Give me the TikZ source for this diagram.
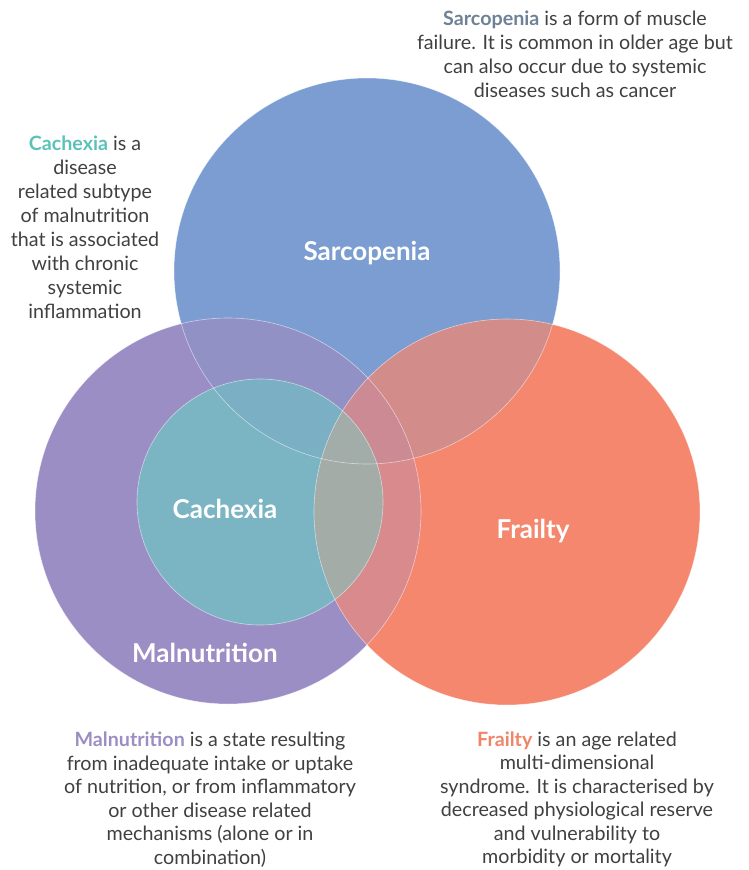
\documentclass[tikz,border=0pt]{standalone}
\usepackage{fontspec}
\setmainfont{Lato}
\definecolor{cB}{HTML}{7B9DD2}
\definecolor{cP}{HTML}{9B8EC4}
\definecolor{cO}{HTML}{F4876E}
\definecolor{cT}{HTML}{7BB5C3}
\definecolor{cBP}{HTML}{9291C6}
\definecolor{cBO}{HTML}{D28C89}
\definecolor{cPO}{HTML}{D98A8D}
\definecolor{cBPO}{HTML}{CB8A94}
\definecolor{cTB}{HTML}{7BAFC3}
\definecolor{cTO}{HTML}{A3ACA6}
\definecolor{cTBO}{HTML}{A2ACA8}
\definecolor{body}{HTML}{404040}
\definecolor{hS}{HTML}{6F8197}
\definecolor{hC}{HTML}{5BC2B8}
\definecolor{hM}{HTML}{9B8EC4}
\definecolor{hF}{HTML}{F08467}
\tikzset{
  desc/.style={align=center, text=body, inner sep=0pt, font=\fontsize{19.7}{24}\selectfont},
  descb/.style={desc, font=\fontsize{19.7}{23.5}\selectfont},
  clabel/.style={text=white, inner sep=0pt, font=\fontsize{26}{30}\selectfont\bfseries},
  rim/.style={draw=white, draw opacity=0.55, line width=0.6pt}
}
\begin{document}
\begin{tikzpicture}[x=1pt,y=1pt]
\useasboundingbox (0,0) rectangle (749,-870);
\coordinate (B) at (367,-271);
\coordinate (P) at (228,-511);
\coordinate (O) at (507,-512);
\coordinate (T) at (260,-502);
\def\rB{193}\def\rP{193}\def\rO{193}\def\rT{123}
% base circles
\fill[cP] (P) circle (\rP);
\fill[cB] (B) circle (\rB);
\fill[cO] (O) circle (\rO);
% pairwise and triple overlaps
\begin{scope}\clip (B) circle (\rB); \fill[cBP] (P) circle (\rP); \end{scope}
\begin{scope}\clip (B) circle (\rB); \fill[cBO] (O) circle (\rO); \end{scope}
\begin{scope}\clip (P) circle (\rP); \fill[cPO] (O) circle (\rO); \end{scope}
\begin{scope}\clip (B) circle (\rB); \clip (P) circle (\rP); \fill[cBPO] (O) circle (\rO); \end{scope}
% cachexia
\fill[cT] (T) circle (\rT);
\begin{scope}\clip (B) circle (\rB); \fill[cTB] (T) circle (\rT); \end{scope}
\begin{scope}\clip (O) circle (\rO); \fill[cTO] (T) circle (\rT); \end{scope}
\begin{scope}\clip (B) circle (\rB); \clip (O) circle (\rO); \fill[cTBO] (T) circle (\rT); \end{scope}
% rims
\draw[rim] (P) circle (\rP);
\draw[rim] (B) circle (\rB);
\draw[rim] (O) circle (\rO);
\draw[rim] (T) circle (\rT);
% circle labels
\node[clabel] (lS) at (367,-253) {Sarcopenia};
\node[clabel] (lC) at (225,-509) {Cachexia};
\node[clabel] (lF) at (533,-531) {Frailty};
\node[clabel] (lM) at (205,-653) {Malnutrition};
% descriptions
\node[desc] (dS) at (575,-54) {\textbf{\color{hS}Sarcopenia} is a form of muscle\\failure. It is common in older age but\\can also occur due to systemic\\diseases such as cancer};
\node[desc] (dC) at (85,-227) {\textbf{\color{hC}Cachexia} is a\\disease\\related subtype\\of malnutrition\\that is associated\\with chronic\\systemic\\inflammation};
\node[descb] (dM) at (210,-799.5) {\textbf{\color{hM}Malnutrition} is a state resulting\\from inadequate intake or uptake\\of nutrition, or from inflammatory\\or other disease related\\mechanisms (alone or in\\combination)};
\node[descb] (dF) at (577,-799.5) {\textbf{\color{hF}Frailty} is an age related\\multi-dimensional\\syndrome. It is characterised by\\decreased physiological reserve\\and vulnerability to\\morbidity or mortality};
\end{tikzpicture}
\end{document}
